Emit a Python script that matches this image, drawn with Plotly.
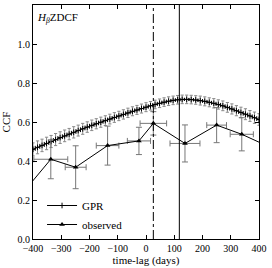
import plotly.graph_objects as go

# GPR curve (lag in days, CCF, 1-sigma)
gpr_lag = list(range(-400, 401, 16))
gpr_ccf = [0.460, 0.470, 0.480, 0.490, 0.500, 0.510, 0.520, 0.529, 0.538, 0.547,
           0.556, 0.565, 0.574, 0.583, 0.591, 0.599, 0.607, 0.615, 0.623, 0.631,
           0.639, 0.647, 0.655, 0.662, 0.669, 0.676, 0.683, 0.690, 0.696, 0.702,
           0.707, 0.711, 0.714, 0.716, 0.716, 0.715, 0.713, 0.710, 0.706, 0.701,
           0.696, 0.690, 0.683, 0.675, 0.667, 0.658, 0.649, 0.640, 0.631, 0.622,
           0.613]
gpr_err = [0.033, 0.033, 0.032, 0.032, 0.031, 0.031, 0.030, 0.030, 0.029, 0.029,
           0.028, 0.028, 0.027, 0.027, 0.026, 0.026, 0.025, 0.025, 0.025, 0.024,
           0.024, 0.024, 0.023, 0.023, 0.023, 0.023, 0.022, 0.022, 0.022, 0.022,
           0.022, 0.022, 0.022, 0.022, 0.022, 0.022, 0.022, 0.023, 0.023, 0.023,
           0.024, 0.024, 0.025, 0.025, 0.026, 0.026, 0.027, 0.028, 0.028, 0.029,
           0.030]
gpr_half_bin = [8] * len(gpr_lag)

# Observed ZDCF points
obs_lag = [-440, -337, -249, -136, -25, 26, 138, 250, 339, 440]
obs_ccf = [0.23, 0.409, 0.368, 0.479, 0.503, 0.593, 0.490, 0.584, 0.537, 0.47]
obs_lag_err = [0, 60, 37, 40, 41, 47, 53, 35, 41, 0]
obs_ccf_err = [0, 0.10, 0.11, 0.10, 0.07, 0.06, 0.095, 0.09, 0.085, 0]

# vertical reference lags
lag_obs_peak = 26
lag_gpr_peak = 118

x_ticks = [-400, -300, -200, -100, 0, 100, 200, 300, 400]
y_ticks = [0.0, 0.2, 0.4, 0.6, 0.8, 1.0]

font_family = "Liberation Serif"

fig = go.Figure()

fig.add_trace(go.Scatter(
    x=gpr_lag, y=gpr_ccf, mode="lines+markers", name="GPR",
    line=dict(color="black", width=1),
    marker=dict(symbol="line-ns", size=4, line=dict(color="black", width=1)),
    error_y=dict(type="data", array=gpr_err, color="#8a8a8a", thickness=1, width=1.6),
    error_x=dict(type="data", array=gpr_half_bin, color="black", thickness=1, width=1.5),
))

fig.add_trace(go.Scatter(
    x=obs_lag, y=obs_ccf, mode="lines+markers", name="observed",
    line=dict(color="black", width=1),
    marker=dict(symbol="triangle-up", size=5, color="black"),
    error_y=dict(type="data", array=obs_ccf_err, color="#777777", thickness=1, width=3),
    error_x=dict(type="data", array=obs_lag_err, color="#777777", thickness=1, width=3),
))

fig.add_vline(x=lag_obs_peak, line=dict(color="black", width=1, dash="dashdot"))
fig.add_vline(x=lag_gpr_peak, line=dict(color="black", width=1))

fig.add_annotation(x=0.01, y=0.985, xref="paper", yref="paper",
                   xanchor="left", yanchor="top", showarrow=False,
                   text="<i>H</i><sub><i>β</i></sub>ZDCF",
                   font=dict(family=font_family, size=11, color="black"))

axis_common = dict(showgrid=False, zeroline=False, showline=True, linecolor="black",
                   linewidth=1, mirror="ticks", ticks="inside", ticklen=4,
                   tickcolor="black", automargin=False,
                   tickfont=dict(family=font_family, size=10, color="black"))

fig.update_xaxes(range=[-400, 400], tickvals=x_ticks,
                 title=dict(text="time-lag (days)", standoff=0,
                            font=dict(family=font_family, size=11, color="black")),
                 **axis_common)
fig.update_yaxes(range=[0, 1.2], tickvals=y_ticks, tickformat=".1f",
                 title=dict(text="CCF",
                            font=dict(family=font_family, size=11, color="black")),
                 **axis_common)

fig.update_layout(
    width=272, height=268,
    margin=dict(l=33, r=13, t=5, b=29),
    paper_bgcolor="white", plot_bgcolor="white",
    showlegend=True,
    legend=dict(x=0.04, y=0.0, xanchor="left", yanchor="bottom",
                bgcolor="rgba(0,0,0,0)", borderwidth=0,
                font=dict(family=font_family, size=11, color="black"),
                tracegroupgap=0, itemwidth=30),
    font=dict(family=font_family, color="black"),
)

fig.write_html("out.html", config={"displayModeBar": False},
               post_script="document.body.style.margin='0';")
